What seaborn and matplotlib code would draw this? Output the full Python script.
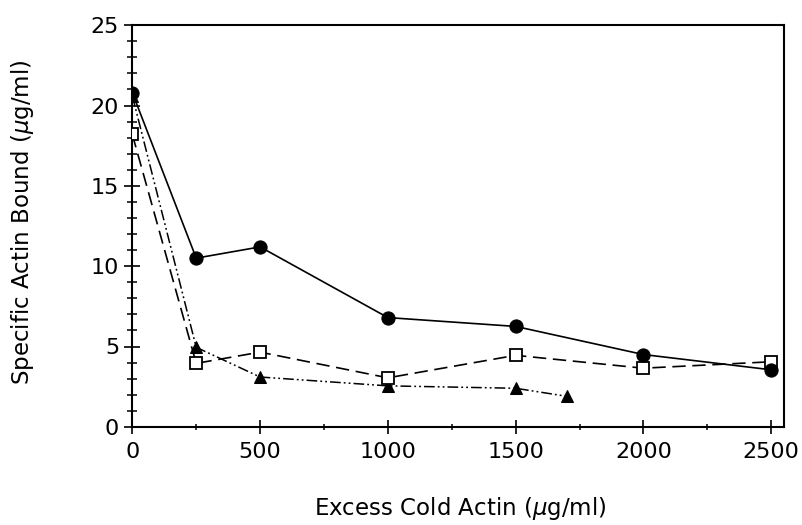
import matplotlib
matplotlib.use("Agg")
import matplotlib.pyplot as plt
import seaborn as sns
import numpy as np
from matplotlib.ticker import MultipleLocator

# Data
x_circle = [0, 250, 500, 1000, 1500, 2000, 2500]
y_circle = [20.8, 10.5, 11.2, 6.8, 6.25, 4.5, 3.55]

x_square = [0, 250, 500, 1000, 1500, 2000, 2500]
y_square = [18.2, 3.95, 4.65, 3.05, 4.45, 3.65, 4.05]

x_tri = [0, 250, 500, 1000, 1500, 1700]
y_tri = [20.6, 4.95, 3.1, 2.55, 2.4, 1.9]

x_ticks = [0, 500, 1000, 1500, 2000, 2500]
y_ticks = [0, 5, 10, 15, 20, 25]

sns.set_style("ticks")
plt.rcParams['font.family'] = ['DejaVu Sans']
plt.rcParams['mathtext.fontset'] = 'dejavusans'
for k in ['text.color', 'axes.labelcolor', 'xtick.color', 'ytick.color', 'axes.edgecolor']:
    plt.rcParams[k] = 'black'

fig = plt.figure(figsize=(8.02, 5.25), dpi=100)
ax = fig.add_axes([0.165, 0.187, 0.8125, 0.765])

sns.lineplot(x=x_tri, y=y_tri, ax=ax, color='black', lw=1.1, sort=False,
             linestyle=(0, (7, 2, 1.2, 2, 1.2, 2)), marker='^', markersize=9,
             markerfacecolor='black', markeredgecolor='black', zorder=3)
sns.lineplot(x=x_square, y=y_square, ax=ax, color='black', lw=1.2, sort=False,
             linestyle=(0, (8, 4)), marker='s', markersize=8.5,
             markerfacecolor='white', markeredgecolor='black', markeredgewidth=1.3, zorder=4)
sns.lineplot(x=x_circle, y=y_circle, ax=ax, color='black', lw=1.2, sort=False,
             linestyle='-', marker='o', markersize=9.5,
             markerfacecolor='black', markeredgecolor='black', zorder=5)

ax.set_xlim(0, 2550)
ax.set_ylim(0, 25)
ax.set_xticks(x_ticks)
ax.set_yticks(y_ticks)
ax.xaxis.set_minor_locator(MultipleLocator(250))
ax.yaxis.set_minor_locator(MultipleLocator(1))
ax.tick_params(axis='x', which='major', direction='inout', length=9.5, width=1.2,
               labelsize=16, pad=6, top=False, colors='black')
ax.tick_params(axis='x', which='minor', direction='inout', length=5, width=1.1, top=False)
ax.tick_params(axis='y', which='major', direction='inout', length=11, width=1.2,
               labelsize=16, pad=4, right=False, colors='black')
ax.tick_params(axis='y', which='minor', direction='inout', length=7, width=1.1, right=False)
for s in ax.spines.values():
    s.set_linewidth(1.5)
    s.set_color('black')
    s.set_visible(True)

ax.set_xlabel(r'Excess Cold Actin ($\mu$g/ml)', fontsize=16.5, color='black')
ax.set_ylabel(r'Specific Actin Bound ($\mu$g/ml)', fontsize=16.5, color='black')
ax.xaxis.set_label_coords(0.503, -0.170)
ax.yaxis.set_label_coords(-0.148, 0.51)

fig.savefig('out.png', dpi=100)
